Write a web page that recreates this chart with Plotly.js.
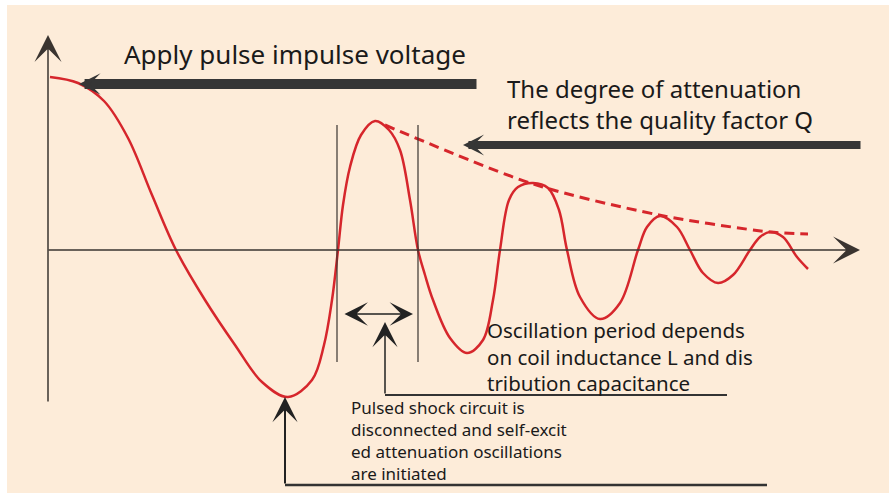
<!DOCTYPE html>
<html>
<head>
<meta charset="utf-8">
<script src="https://cdn.plot.ly/plotly-3.0.1.min.js"></script>
<style>html,body{margin:0;padding:0;background:#fff;}#chart{width:889px;height:493px;}</style>
</head>
<body>
<div id="chart"></div>
<script>
// Damped oscillation waveform (time units, amplitude units; axis origin = 0,0)
const waveT = [2, 30, 56, 80, 104, 128,
  157, 187, 214, 240, 264, 276, 284, 290,
  295, 302, 313, 327, 341, 352, 362, 370,
  377, 385, 402, 419, 435, 445, 452,
  461, 470, 485, 500, 511, 519,
  532, 552, 572, 590,
  599, 612, 629, 642,
  655, 670, 685, 702,
  712, 722, 735, 749, 760];
const waveV = [173, 167, 149, 112, 55, 0,
  -50, -95, -132, -147, -130, -95, -50, 0,
  45, 83, 115, 129, 120, 100, 50, 0,
  -25, -50, -88, -103, -90, -50, 0,
  50, 63, 67, 62, 40, 0,
  -47, -69, -53, 0,
  23, 34, 23, 0,
  -23, -33, -25, 0,
  13, 18, 13, -7, -19];
// Decay envelope through the peaks
const envT = [337, 485, 611, 722, 760];
const envV = [125, 66, 35, 18, 16];

const labels = {
  apply: "Apply pulse impulse voltage",
  degree: "The degree of attenuation<br>reflects the quality factor Q",
  period: "Oscillation period depends<br>on coil inductance L and dis<br>tribution capacitance",
  pulsed: "Pulsed shock circuit is<br>disconnected and self-excit<br>ed attenuation oscillations<br>are initiated"
};

const RED = '#d6262c';
const INK = '#3a3430';
const TXT = '#1a1a1a';
const FONT = 'Noto Sans, Open Sans, sans-serif';

const traces = [
  {x: envT, y: envV, type: 'scatter', mode: 'lines', line: {color: RED, width: 3, dash: '10px,6px', shape: 'spline', smoothing: 0.8}, hoverinfo: 'skip'},
  {x: waveT, y: waveV, type: 'scatter', mode: 'lines', line: {color: RED, width: 2.5, shape: 'spline', smoothing: 1}, hoverinfo: 'skip'}
];

function arrow(x, y, ax, ay, w, size, color, both) {
  const a = {x: x, y: y, ax: ax, ay: ay, xref: 'x', yref: 'y', axref: 'x', ayref: 'y', text: '',
    showarrow: true, arrowhead: 3, arrowsize: size, arrowwidth: w, arrowcolor: color, standoff: 0, startstandoff: 0};
  if (both) { a.arrowside = 'end+start'; a.startarrowhead = 3; a.startarrowsize = size; }
  return a;
}
function txt(x, y, t, size) {
  return {x: x, y: y, xref: 'x', yref: 'y', text: t, showarrow: false, xanchor: 'left', yanchor: 'middle', align: 'left',
    font: {family: FONT, size: size, color: TXT}};
}

const annotations = [
  arrow(0, 215, 0, -153, 1.5, 3.0, INK),
  arrow(812, 0, -1, 0, 1.5, 3.0, INK),
  arrow(31, 166, 430, 166, 10, 0.36, '#363636'),
  arrow(415, 105, 814, 105, 8, 0.44, '#363636'),
  arrow(365, -64, 295, -64, 1.5, 2.6, '#222', true),
  arrow(337, -72, 337, -145, 1.5, 2.8, '#222'),
  arrow(237, -147, 237, -235, 2, 2.1, '#222'),
  txt(74, 196, labels.apply, 26),
  txt(457, 146, labels.degree, 24),
  txt(437, -106, labels.period, 20.5),
  txt(301, -190, labels.pulsed, 17)
];

const shapes = [
  {type: 'rect', xref: 'paper', yref: 'paper', x0: 7/889, x1: 1, y0: 0, y1: 1 - 5/493, fillcolor: '#fdecd9', line: {width: 0}, layer: 'below'},
  {type: 'line', xref: 'x', yref: 'y', x0: 289, x1: 289, y0: 125, y1: -112, line: {color: INK, width: 1.2}},
  {type: 'line', xref: 'x', yref: 'y', x0: 370, x1: 370, y0: 125, y1: -112, line: {color: INK, width: 1.2}},
  {type: 'line', xref: 'x', yref: 'y', x0: 337, x1: 679, y0: -145, y1: -145, line: {color: '#333', width: 2}},
  {type: 'line', xref: 'x', yref: 'y', x0: 237, x1: 719, y0: -235, y1: -235, line: {color: '#333', width: 2.5}}
];

const layout = {
  width: 889, height: 493,
  margin: {l: 0, r: 0, t: 0, b: 0, pad: 0},
  paper_bgcolor: '#ffffff', plot_bgcolor: 'rgba(0,0,0,0)',
  showlegend: false,
  xaxis: {range: [-48, 841], visible: false, fixedrange: true},
  yaxis: {range: [-243, 250], visible: false, fixedrange: true},
  shapes: shapes,
  annotations: annotations
};

Plotly.newPlot('chart', traces, layout, {displayModeBar: false, staticPlot: true});
</script>
</body>
</html>
